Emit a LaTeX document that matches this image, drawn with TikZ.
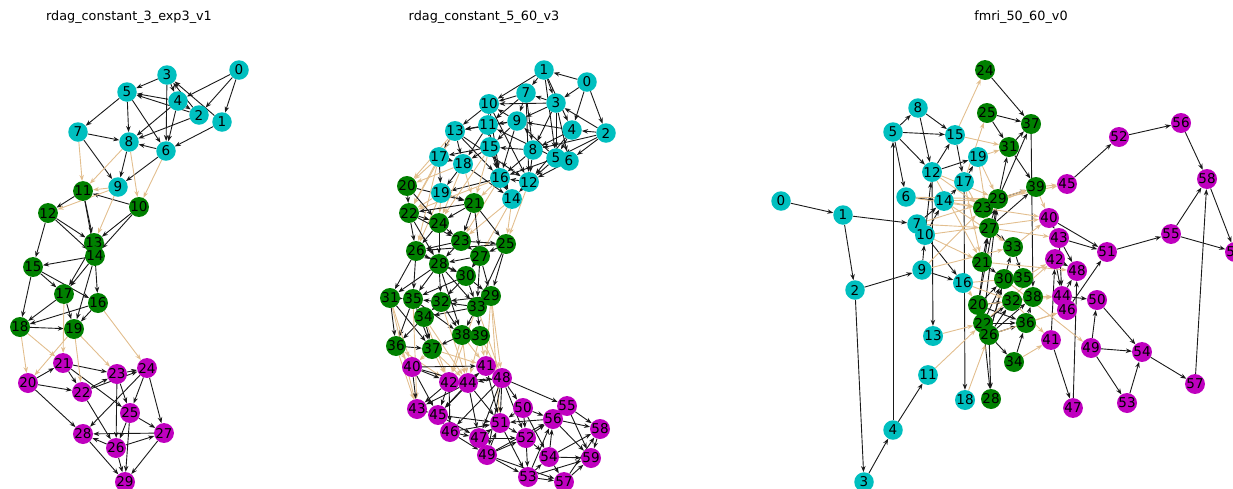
\documentclass[tikz,border=0pt]{standalone}
\usepackage{fontspec}
\setmainfont{DejaVu Sans}
\usetikzlibrary{arrows.meta}
\definecolor{cyc}{HTML}{00BFBF}
\definecolor{grc}{HTML}{008000}
\definecolor{mgc}{HTML}{BF00BF}
\definecolor{tanc}{HTML}{E2BE8E}
\pgfdeclarelayer{background}
\pgfsetlayers{background,main}
\tikzset{
  vtx/.style={circle,inner sep=0pt,minimum size=19.5pt,font=\fontsize{13.5}{13.5}\selectfont},
  cy/.style={vtx,fill=cyc},
  gr/.style={vtx,fill=grc},
  mg/.style={vtx,fill=mgc},
  blk/.style={draw=black!90,line width=0.9pt,-{Stealth[length=6pt,width=4.5pt]}},
  tn/.style={draw=tanc,line width=0.9pt,-{Stealth[length=6pt,width=4.5pt]}},
  ttl/.style={font=\fontsize{12.8}{13}\selectfont}
}
\begin{document}
\begin{tikzpicture}[x=1pt,y=-1pt]
\clip (0,0) rectangle (1233,488);
\node[ttl] (t1) at (129,17) {rdag\_constant\_3\_exp3\_v1};
\node[ttl] (t2) at (484,17) {rdag\_constant\_5\_60\_v3};
\node[ttl] (t3) at (1021,17) {fmri\_50\_60\_v0};
% graph 1
\foreach \n/\x/\y in {0/239/70,1/222/122,2/199/115,3/167/75,4/178/101,5/127/92,6/166/151,7/78/132,8/129/142,9/118/187}
  \node[cy] (a\n) at (\x,\y) {\n};
\foreach \n/\x/\y in {10/139/207,11/83/191,12/48/213,13/94/243,14/95/256,15/33/267,16/98/303,17/64/294,18/20/327,19/74/329}
  \node[gr] (a\n) at (\x,\y) {\n};
\foreach \n/\x/\y in {20/28/383,21/63/363,22/82/392,23/117/374,24/147/368,25/130/413,26/116/448,27/164/433,28/83/434,29/125/482}
  \node[mg] (a\n) at (\x,\y) {\n};
% graph 2
\foreach \n/\x/\y in {0/587/82,1/544/70,2/606/133,3/556/103,4/572/130,5/556/158,6/569/161,7/526/93,8/533/150,9/517/121,10/489/104,11/488/125,12/529/182,13/455/131,14/512/199,15/490/147,16/500/178,17/439/157,18/463/164,19/441/193}
  \node[cy] (b\n) at (\x,\y) {\n};
\foreach \n/\x/\y in {20/407/186,21/474/203,22/409/213,23/461/241,24/439/223,25/506/244,26/416/251,27/480/256,28/439/264,29/491/296,30/466/276,31/390/298,32/441/302,33/477/307,34/424/317,35/413/299,36/396/346,37/432/349,38/462/335,39/480/336}
  \node[gr] (b\n) at (\x,\y) {\n};
\foreach \n/\x/\y in {40/412/367,41/486/366,42/449/382,43/417/409,44/468/383,45/438/415,46/450/432,47/479/438,48/502/378,49/487/455,50/523/408,51/500/423,52/526/438,53/528/477,54/549/457,55/567/406,56/553/419,57/564/482,58/600/429,59/591/458}
  \node[mg] (b\n) at (\x,\y) {\n};
% graph 3
\foreach \n/\x/\y in {0/781/201,1/843/215,2/855/290,3/864/482,4/893/430,5/893/132,6/906/197,7/917/224,8/918/108,9/922/270,10/925/235,11/928/375,12/932/172,13/933/336,14/944/201,15/955/135,16/963/283,17/964/182,18/965/400,19/978/157}
  \node[cy] (c\n) at (\x,\y) {\n};
\foreach \n/\x/\y in {20/978/305,21/982/262,22/983/323,23/983/208,24/985/70,25/987/113,26/989/335,27/989/228,28/991/399,29/998/199,30/1004/279,31/1009/147,32/1012/301,33/1013/247,34/1014/362,35/1023/278,36/1026/323,37/1031/124,38/1033/297,39/1036/187}
  \node[gr] (c\n) at (\x,\y) {\n};
\foreach \n/\x/\y in {40/1049/218,41/1051/340,42/1055/259,43/1059/238,44/1062/296,45/1067/184,46/1067/310,47/1073/408,48/1077/271,49/1091/348,50/1097/300,51/1107/252,52/1119/137,53/1127/403,54/1142/352,55/1171/234,56/1181/123,57/1195/384,58/1207/179,59/1235/252}
  \node[mg] (c\n) at (\x,\y) {\n};
\begin{pgfonlayer}{background}
% graph 1 edges
\foreach \s/\t in {0/4,0/2,0/1,3/5,3/4,3/6,2/3,1/3,4/5,2/5,4/2,4/8,4/6,2/8,1/6,5/7,5/8,5/6,7/8,7/9,6/8,6/9,8/9,10/11,10/13,10/14,11/12,11/13,11/14,12/13,12/14,12/15,14/15,13/17,14/17,14/16,14/19,15/17,15/16,15/18,17/18,17/19,16/18,16/19,18/19,20/21,20/22,20/28,21/22,21/23,21/25,22/23,22/24,22/26,23/24,23/25,23/26,24/25,24/27,24/28,25/27,25/26,25/29,27/28,26/27,26/28,26/29,28/29,27/29}
  \draw[blk] (a\s) -- (a\t);
\foreach \s/\t in {7/11,8/11,8/10,6/10,9/11,9/12,9/13,17/21,18/21,18/20,19/20,19/22,19/23,16/24}
  \draw[tn] (a\s) -- (a\t);
% graph 2 edges
\foreach \s/\t in {0/1,0/3,0/4,0/2,1/7,1/10,1/3,1/4,1/5,7/10,7/9,7/11,7/8,7/12,3/7,3/9,3/10,3/5,3/8,3/6,2/4,2/3,2/6,2/5,2/8,4/8,4/5,4/12,4/9,10/13,10/11,10/16,10/12,9/11,9/10,9/15,9/13,9/16,11/13,11/15,11/18,11/16,13/17,13/18,13/16,13/12,15/17,15/18,15/16,15/14,8/15,8/16,8/12,5/9,5/16,5/11,5/12,6/12,12/16,12/14,16/14,16/19,17/18,17/19,18/19,18/14,19/21,20/21}
  \draw[blk] (b\s) -- (b\t);
\foreach \s/\t in {17/20,13/20,17/22,18/20,18/21,18/24,19/22,19/24,16/21,16/23,15/21,14/25,12/25,14/23,16/22,19/26,17/26,13/22,15/24,14/27}
  \draw[tn] (b\s) -- (b\t);
\foreach \s/\t in {20/22,20/24,22/24,22/26,22/23,22/28,21/22,21/23,21/24,21/25,21/27,24/23,24/26,24/28,23/25,23/26,23/27,23/28,25/27,25/26,25/29,25/33,26/28,26/31,26/35,26/30,27/28,27/30,27/29,27/33,28/30,28/32,28/35,28/31,28/33,30/29,30/32,30/35,30/33,29/33,29/32,32/35,33/32,31/35,35/36,35/34,35/37,32/34,32/38,33/34,33/38,33/39,34/37,34/36,36/37,38/37,31/36,31/37,28/38,35/38}
  \draw[blk] (b\s) -- (b\t);
\foreach \s/\t in {31/40,36/40,36/43,37/40,37/42,37/44,34/42,38/41,38/44,39/41,39/48,29/41,29/48,33/42,32/44,35/43,36/42,37/41,31/43,34/44,38/42,39/44,33/48,29/51}
  \draw[tn] (b\s) -- (b\t);
\foreach \s/\t in {40/41,40/42,40/43,40/45,40/44,42/43,42/45,42/46,42/44,44/41,44/45,44/47,44/43,44/51,41/48,41/45,48/44,48/50,48/55,48/51,48/47,48/46,48/49,43/45,45/46,45/51,45/47,46/47,46/51,46/49,47/51,47/49,50/51,50/52,50/56,50/54,55/56,55/58,55/59,56/58,56/59,56/51,51/52,51/53,52/56,52/53,52/54,49/51,49/52,49/53,49/57,49/56,54/56,54/58,54/57,54/59,53/57,53/54,53/59,53/56,57/59,57/58,58/59,47/52,41/51,42/48,48/52}
  \draw[blk] (b\s) -- (b\t);
% graph 3 edges
\foreach \s/\t in {0/1,1/7,1/2,2/9,2/3,3/4,4/11,4/5,5/8,5/15,5/12,5/6,8/15,8/12,12/15,12/19,6/14,7/14,10/12,10/14,10/16,9/10,9/16,14/17,17/19,15/17,12/13,17/18,26/28,22/28,24/37,25/37,25/31,31/37,31/39,29/31,29/37,29/39,27/39,37/38,45/52,52/56,56/58,55/58,55/59,58/59,57/58,51/55,40/51,43/51,43/48,42/48,42/44,41/42,41/47,47/48,46/51,44/50,49/50,49/54,49/53,53/54,54/57,50/54,44/48,21/27,20/27,22/29,26/33,20/30,20/32,22/32,26/30,26/36,26/34,34/36,36/38,32/38,30/35,27/33,33/35,23/29,27/29,20/29,21/30,22/30,26/32,22/36,20/36,26/38,43/44,40/43}
  \draw[blk] (c\s) -- (c\t);
\foreach \s/\t in {39/45,15/24,17/25,19/31,15/31,12/29,14/23,6/29,10/40,7/27,9/23,16/20,13/22,11/22,18/26,17/21,19/27,16/35,14/33,12/21,29/45,39/40,33/40,27/43,35/42,38/44,36/46,34/41,32/41,30/49,21/48,20/44,23/40,26/46,22/42,6/23,10/21,14/29,19/29,17/27,16/32,9/33,7/39,23/39,12/23}
  \draw[tn] (c\s) -- (c\t);
\end{pgfonlayer}
\end{tikzpicture}
\end{document}
